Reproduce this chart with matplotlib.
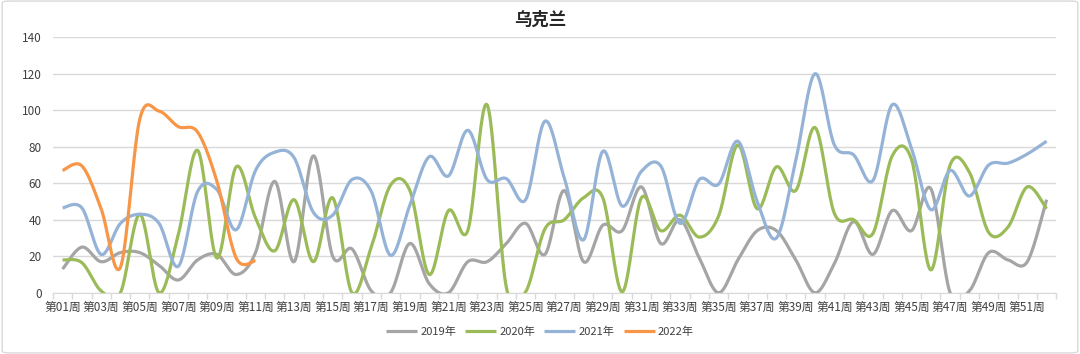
import matplotlib
matplotlib.use("Agg")
import matplotlib.pyplot as plt
import numpy as np
from matplotlib.patches import FancyBboxPatch

plt.rcParams["font.family"] = ["Noto Sans CJK SC", "DejaVu Sans"]

# Data (weekly values)
weeks = [f"第{i:02d}周" for i in range(1, 53)]
series_names = ["2019年", "2020年", "2021年", "2022年"]

y2019 = [13, 25, 17, 22, 22, 15, 7, 18, 21, 10, 22, 61, 17, 75, 20, 24,
         1, 0, 27, 5, 0, 17, 17, 27, 38, 21, 56, 17, 37, 34, 58, 27,
         40, 19, 0, 18, 34, 34, 18, 0, 16, 39, 21, 45, 34, 57, 0, 1,
         22, 18, 17, 51]
y2020 = [18, 16.5, 1, 0, 43, 0, 32, 78, 19, 69, 41, 23, 51, 17, 52, 0,
         25, 59, 56, 10, 45, 34, 103, 3, 0.5, 35, 40, 52, 52, 0.5, 52, 34,
         42.5, 30.5, 42, 81, 46, 69, 56, 90.5, 43.5, 40, 32.5, 75, 73, 12.5, 70, 66,
         33, 36, 58, 46]
y2021 = [46.5, 46.5, 21, 38, 43, 38, 14.5, 55.5, 56.5, 34.5, 67, 77, 74, 44, 42.5, 62,
         55.5, 20.5, 48, 74.5, 64, 89, 62, 62.5, 51, 94, 63, 29, 77.5, 47.5, 66.5, 69.5,
         38, 62, 59.5, 83, 50, 30, 72.5, 120, 81, 75.5, 61.5, 103, 79, 45.5, 67, 53,
         70, 71, 76, 83]
y2022 = [67, 69.5, 46, 14, 95, 99.5, 91, 88, 61, 19, 17.5]

COLOURS = ["#A5A5A5", "#9BBB59", "#95B3D7", "#F79646"]


def smooth_curve(xs, ys, n=24):
    """Bezier smoothing through the points, in the style of Excel smooth lines."""
    xs = np.asarray(xs, float)
    ys = np.asarray(ys, float)
    pts = np.column_stack([xs, ys])
    out = [pts[0]]
    t = np.linspace(0, 1, n)[1:, None]
    for i in range(len(pts) - 1):
        p0 = pts[i - 1] if i > 0 else pts[i]
        p1, p2 = pts[i], pts[i + 1]
        p3 = pts[i + 2] if i + 2 < len(pts) else pts[i + 1]
        c1 = p1 + (p2 - p0) / 6
        c2 = p2 - (p3 - p1) / 6
        seg = ((1 - t) ** 3) * p1 + 3 * ((1 - t) ** 2) * t * c1 \
            + 3 * (1 - t) * t ** 2 * c2 + t ** 3 * p2
        out.extend(seg)
    out = np.array(out)
    return out[:, 0], out[:, 1]


fig = plt.figure(figsize=(10.8, 3.54), dpi=100)
fig.patches.append(FancyBboxPatch(
    (0.002, 0.003), 0.996, 0.994, boxstyle="round,pad=0,rounding_size=0.006",
    transform=fig.transFigure, facecolor="white", edgecolor="#D9D9D9", lw=1, zorder=-1))

ax = fig.add_axes([0.049, 0.173, 0.929, 0.722])
ax.set_facecolor("none")

for name, ys, col in zip(series_names, [y2019, y2020, y2021, y2022], COLOURS):
    xs = np.arange(len(ys))
    sx, sy = smooth_curve(xs, ys)
    ax.plot(sx, sy, color=col, lw=2.3, label=name, solid_capstyle="butt", clip_on=True)

ax.set_xlim(-0.5, 51.5)
ax.set_ylim(0, 140)
ax.set_yticks(np.arange(0, 141, 20))
ax.yaxis.grid(True, color="#D9D9D9", lw=1)
ax.set_axisbelow(True)
ax.tick_params(axis="y", length=0, labelsize=8.5, colors="#404040", pad=8)

ax.set_xticks(np.arange(0, 52, 2))
ax.set_xticklabels(weeks[::2])
ax.set_xticks(np.arange(-0.5, 52, 1), minor=True)
ax.tick_params(axis="x", which="major", length=0, labelsize=8.5, colors="#404040", pad=6)
ax.tick_params(axis="x", which="minor", length=4, color="#D9D9D9", width=1)

for s in ["top", "right", "left"]:
    ax.spines[s].set_visible(False)
ax.spines["bottom"].set_color("#D9D9D9")

fig.text(0.5, 0.943, "乌克兰", ha="center", va="center", fontsize=12.5,
         fontweight="bold", color="#262626")

fig.legend(loc="center", bbox_to_anchor=(0.5, 0.063), ncol=4, frameon=False,
           fontsize=8, handlelength=2.8, columnspacing=0.8, handletextpad=0.3,
           labelcolor="#404040")

fig.savefig("out.png", dpi=100)
plt.close(fig)
